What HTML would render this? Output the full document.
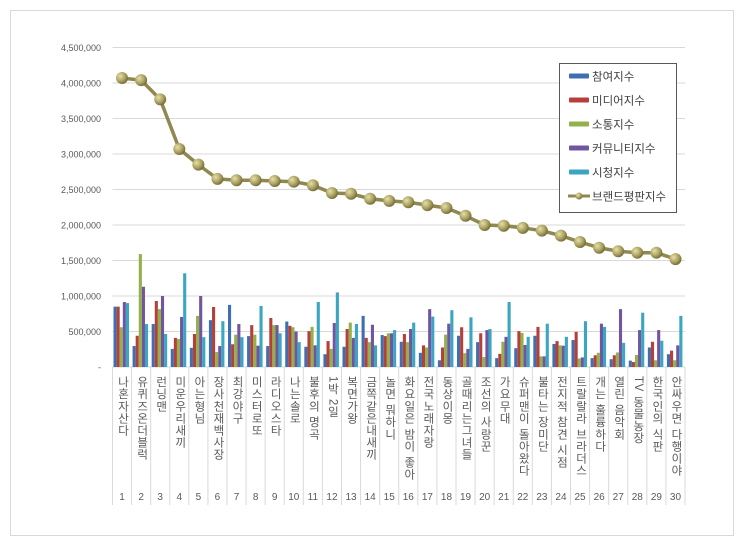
<!DOCTYPE html>
<html><head><meta charset="utf-8">
<style>
html,body{margin:0;padding:0;background:#fff;}
body{width:743px;height:545px;overflow:hidden;font-family:"Liberation Sans","Noto Sans CJK KR",sans-serif;}
#frame{position:absolute;left:10px;top:10px;width:724px;height:526px;border:1px solid #d9d9d9;box-sizing:border-box;}
svg{position:absolute;left:0;top:0;}
.cat{position:absolute;top:376px;width:19px;writing-mode:vertical-rl;text-orientation:mixed;font-size:11.5px;line-height:19px;color:#595959;letter-spacing:0.6px;}
</style></head><body>
<div id="frame"></div>
<svg id="chart" width="743" height="545"></svg>
<div id="labels"></div>
<script>
const categories=["나혼자산다","유퀴즈온더블럭","런닝맨","미운우리새끼","아는형님","장사천재백사장","최강야구","미스터로또","라디오스타","나는솔로","불후의 명곡","1박 2일","복면가왕","금쪽같은내새끼","놀면 뭐하니","화요일은 밤이 좋아","전국노래자랑","동상이몽","골때리는그녀들","조선의 사랑꾼","가요무대","슈퍼맨이 돌아왔다","불타는 장미단","전지적 참견 시점","트랄랄라 브라더스","개는 훌륭하다","열린 음악회","TV 동물농장","한국인의 식판","안싸우면 다행이야"];
const participation=[850000,295000,605000,255000,270000,660000,875000,435000,295000,640000,285000,180000,285000,720000,450000,355000,200000,95000,440000,350000,125000,265000,440000,325000,380000,125000,110000,90000,275000,180000];
const media=[850000,440000,930000,410000,465000,845000,320000,590000,690000,580000,505000,365000,535000,410000,435000,465000,305000,275000,560000,475000,185000,505000,565000,365000,495000,165000,165000,70000,355000,230000];
const communication=[560000,1590000,815000,395000,720000,210000,455000,455000,590000,560000,565000,255000,625000,350000,475000,350000,275000,455000,195000,140000,355000,480000,150000,305000,120000,200000,205000,170000,95000,95000];
const community=[915000,1130000,1000000,705000,1000000,295000,605000,300000,590000,500000,305000,620000,410000,595000,475000,535000,815000,610000,255000,520000,425000,310000,150000,300000,135000,610000,815000,520000,520000,305000];
const viewing=[900000,605000,465000,1320000,420000,645000,420000,860000,475000,350000,915000,1050000,605000,305000,520000,625000,710000,800000,700000,535000,915000,425000,610000,425000,645000,565000,340000,765000,370000,720000];
const brandIndex=[4070000,4040000,3770000,3070000,2850000,2650000,2630000,2630000,2620000,2610000,2560000,2450000,2440000,2370000,2340000,2320000,2280000,2240000,2130000,2000000,1990000,1960000,1920000,1850000,1760000,1680000,1630000,1610000,1610000,1520000];
const yTicks=[0,500000,1000000,1500000,2000000,2500000,3000000,3500000,4000000,4500000];
const seriesNames=["참여지수","미디어지수","소통지수","커뮤니티지수","시청지수","브랜드평판지수"];

const NS="http://www.w3.org/2000/svg";
const svg=document.getElementById('chart');
const X0=112.5,X1=685,Y0=367,YMAX=4500000,PH=319.5;
const band=(X1-X0)/categories.length;
function y(v){return Y0-v/YMAX*PH;}
function xc(i){return X0+band*(i+0.5);}
function mk(tag,attrs){const e=document.createElementNS(NS,tag);for(const k in attrs)e.setAttribute(k,attrs[k]);svg.appendChild(e);return e;}

const defs=mk('defs',{});
defs.innerHTML='<radialGradient id="mg" cx="35%" cy="35%" r="70%"><stop offset="0" stop-color="#e6e0a8"/><stop offset="0.6" stop-color="#a9a060"/><stop offset="1" stop-color="#6e6835"/></radialGradient>';

yTicks.forEach(t=>{
  if(t>0){const g=mk('line',{x1:X0,x2:X1,y1:y(t),y2:y(t),stroke:'#d9d9d9','stroke-width':1});
  
  }
  const tx=mk('text',{x:101,y:y(t)+3.5,'text-anchor':'end','font-size':'9','fill':'#595959','font-family':'Liberation Sans, sans-serif'});
  tx.textContent=t===0?'-':t.toLocaleString('en-US');
  
  
});
const ax=mk('line',{x1:X0,x2:X1,y1:Y0,y2:Y0,stroke:'#d9d9d9','stroke-width':1});


for(let i=0;i<=categories.length;i++){
  const s=mk('line',{x1:X0+band*i,x2:X0+band*i,y1:Y0,y2:505,stroke:'#d9d9d9','stroke-width':1});
  
  
}
const series=[participation,media,communication,community,viewing];
const colors=['#3f6fb0','#b5403b','#93b04a','#7155a0','#3aa6c2'];
const bw=3.1;
series.forEach((arr,s)=>{
  arr.forEach((v,i)=>{
    const bx=X0+band*i+1+s*bw;
    const r=mk('rect',{x:bx,y:y(v),width:bw,height:Y0-y(v),fill:colors[s]});
    
    
  });
});
const pts=brandIndex.map((v,i)=>xc(i)+','+y(v)).join(' ');
const pl=mk('polyline',{points:pts,fill:'none',stroke:'#8f8850','stroke-width':3.5,'stroke-linejoin':'round'});


brandIndex.forEach((v,i)=>{
  const c=mk('circle',{cx:xc(i),cy:y(v),r:6,fill:'url(#mg)'});
  
  
});
categories.forEach((c,i)=>{
  const n=mk('text',{x:xc(i),y:500,'text-anchor':'middle','font-size':'10','fill':'#595959','font-family':'Liberation Sans, sans-serif'});
  n.textContent=String(i+1);
  
  
});
const lg=mk('rect',{x:559.5,y:63.5,width:117,height:149,fill:'#fff',stroke:'#595959','stroke-width':1});


seriesNames.forEach((nm,s)=>{
  const ly=76+s*24;
  if(s<5){
    const r=mk('rect',{x:569,y:ly-2.5,width:20,height:5,fill:colors[s],rx:1});
    
    
  } else {
    const l=mk('line',{x1:568,x2:590,y1:ly,y2:ly,stroke:'#8f8850','stroke-width':3});
    
    
    const c=mk('circle',{cx:579,cy:ly,r:3.5,fill:'url(#mg)'});
    
    
  }
  const t=mk('text',{x:592,y:ly+4.5,'font-size':'11.5','fill':'#404040','font-family':'Liberation Sans, Noto Sans CJK KR, sans-serif'});
  t.textContent=nm;
  
  
});
const labels=document.getElementById('labels');
categories.forEach((c,i)=>{
  const d=document.createElement('div');
  d.className='cat';
  d.style.left=(xc(i)-9.5)+'px';
  d.textContent=c;
  
  
  labels.appendChild(d);
});
</script>
</body></html>
